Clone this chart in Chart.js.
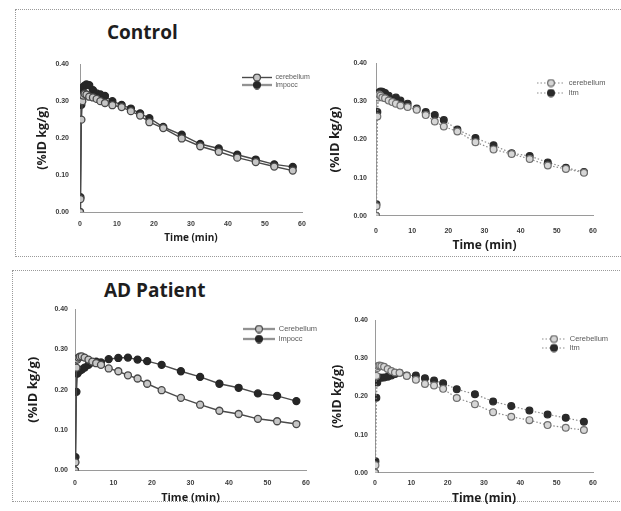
<!DOCTYPE html>
<html><head><meta charset="utf-8">
<script src="https://cdn.jsdelivr.net/npm/chart.js@4.4.1/dist/chart.umd.min.js"></script>
<style>
html,body{margin:0;padding:0;background:#fff;width:621px;height:511px;overflow:hidden;position:relative}
canvas{position:absolute}
.box{position:absolute;border:1px dotted #9a9a9a}
.ttl{position:absolute;font-family:"Open Sans",sans-serif;font-weight:700;font-size:19px;color:#1e1e1e;line-height:19px;white-space:nowrap}
</style></head><body>
<div class="box" style="left:15px;top:9px;width:640px;height:246px"></div>
<div class="box" style="left:12px;top:270px;width:640px;height:230px"></div>
<div class="ttl" style="left:107px;top:23px">Control</div>
<div class="ttl" style="left:104px;top:281px">AD Patient</div>
<canvas id="c1"></canvas><canvas id="c2"></canvas><canvas id="c3"></canvas><canvas id="c4"></canvas>
<script>
// ---- data ----
const times = [0, 0.125, 0.375, 0.625, 0.875, 1.25, 1.75, 2.5, 3.5, 4.5, 5.5, 6.75, 8.75, 11.25, 13.75, 16.25, 18.75, 22.5, 27.5, 32.5, 37.5, 42.5, 47.5, 52.5, 57.5];
const yTickLabels = ['0.00', '0.10', '0.20', '0.30', '0.40'];
const xTickLabels = ['0', '10', '20', '30', '40', '50', '60'];

const controlLeftLabels = ['cerebellum', 'lmpocc'];
const controlLeftCerebellum = [0, 0.035, 0.25, 0.30, 0.315, 0.32, 0.318, 0.312, 0.31, 0.306, 0.300, 0.295, 0.289, 0.284, 0.273, 0.261, 0.243, 0.227, 0.199, 0.178, 0.163, 0.147, 0.135, 0.123, 0.112];
const controlLeftLmpocc = [0, 0.04, 0.29, 0.33, 0.338, 0.342, 0.345, 0.343, 0.33, 0.321, 0.318, 0.314, 0.300, 0.290, 0.280, 0.267, 0.254, 0.230, 0.209, 0.184, 0.172, 0.155, 0.142, 0.129, 0.122];

const controlRightLabels = ['cerebellum', 'ltm'];
const controlRightCerebellum = [0, 0.025, 0.26, 0.31, 0.318, 0.315, 0.31, 0.308, 0.302, 0.298, 0.294, 0.289, 0.285, 0.278, 0.264, 0.247, 0.234, 0.221, 0.193, 0.174, 0.162, 0.149, 0.132, 0.123, 0.113];
const controlRightLtm = [0, 0.03, 0.272, 0.315, 0.323, 0.326, 0.325, 0.322, 0.315, 0.302, 0.31, 0.302, 0.294, 0.281, 0.272, 0.264, 0.251, 0.226, 0.204, 0.185, 0.164, 0.157, 0.14, 0.126, 0.115];

const adLeftLabels = ['Cerebellum', 'lmpocc'];
const adLeftCerebellum = [0, 0.02, 0.255, 0.275, 0.28, 0.282, 0.283, 0.28, 0.275, 0.27, 0.266, 0.262, 0.253, 0.246, 0.236, 0.228, 0.215, 0.199, 0.18, 0.163, 0.148, 0.14, 0.128, 0.122, 0.115];
const adLeftLmpocc = [0, 0.033, 0.195, 0.24, 0.245, 0.248, 0.25, 0.255, 0.262, 0.268, 0.27, 0.268, 0.276, 0.279, 0.28, 0.275, 0.271, 0.262, 0.246, 0.232, 0.215, 0.205, 0.191, 0.185, 0.172];

const adRightLabels = ['Cerebellum', 'ltm'];
const adRightCerebellum = [0, 0.02, 0.254, 0.275, 0.28, 0.281, 0.28, 0.278, 0.272, 0.267, 0.263, 0.262, 0.254, 0.244, 0.233, 0.229, 0.22, 0.196, 0.18, 0.159, 0.147, 0.138, 0.125, 0.118, 0.112];
const adRightLtm = [0, 0.03, 0.197, 0.237, 0.25, 0.25, 0.249, 0.25, 0.252, 0.255, 0.259, 0.262, 0.255, 0.255, 0.248, 0.242, 0.235, 0.219, 0.206, 0.187, 0.175, 0.163, 0.153, 0.144, 0.134];

// ---- layout (plot boxes in page pixels) ----
const panels = [
  {id:'c1', labels:controlLeftLabels, series:[controlLeftCerebellum, controlLeftLmpocc], dotted:false,
   ca:{l:80, r:302, t:57, b:212}, yTitleX:42, yTS:12.5, xTitleY:238, xTS:10, yPad:11, xPad:8,
   leg:{x:242, w:30, y:77.5, gap:7.5, fs:7}},
  {id:'c2', labels:controlRightLabels, series:[controlRightCerebellum, controlRightLtm], dotted:true,
   ca:{l:376, r:593, t:58, b:215}, yTitleX:335, yTS:13, xTitleY:245, xTS:12, yPad:9, xPad:11,
   leg:{x:537, w:28, y:83, gap:10, fs:7.5}},
  {id:'c3', labels:adLeftLabels, series:[adLeftCerebellum, adLeftLmpocc], dotted:false,
   ca:{l:75, r:306, t:306, b:470}, yTitleX:33, yTS:13, xTitleY:497, xTS:11, yPad:7, xPad:8,
   leg:{x:243, w:32, y:329, gap:10, fs:7.5}},
  {id:'c4', labels:adRightLabels, series:[adRightCerebellum, adRightLtm], dotted:true,
   ca:{l:375, r:593, t:317, b:472}, yTitleX:337, yTS:12.5, xTitleY:498, xTS:12, yPad:7, xPad:6,
   leg:{x:542, w:24, y:339, gap:9, fs:7.5}}
];

function styleFor(dotted, filled) {
  if (!dotted) {
    return {
      borderColor:'#4a4a4a', borderWidth:1.4, borderDash:[],
      pointRadius:3.5, pointBorderWidth:1.3,
      pointBackgroundColor: filled ? '#262626' : '#c6c6c6',
      pointBorderColor: filled ? '#262626' : '#484848'
    };
  }
  return {
    borderColor:'#8c8c8c', borderWidth:1.2, borderDash:[1.5, 2],
    pointRadius:3.4, pointBorderWidth:1.2,
    pointBackgroundColor: filled ? '#2a2a2a' : '#d6d6d6',
    pointBorderColor: filled ? '#2a2a2a' : '#6e6e6e'
  };
}

function makeIcon(w, st) {
  const c = document.createElement('canvas');
  c.width = w; c.height = 9;
  const g = c.getContext('2d');
  g.strokeStyle = st.borderColor; g.lineWidth = st.borderWidth;
  g.setLineDash(st.borderDash);
  g.beginPath(); g.moveTo(0, 4.5); g.lineTo(w, 4.5); g.stroke();
  g.setLineDash([]);
  g.beginPath(); g.arc(w / 2, 4.5, st.pointRadius, 0, Math.PI * 2);
  g.fillStyle = st.pointBackgroundColor; g.fill();
  g.strokeStyle = st.pointBorderColor; g.lineWidth = st.pointBorderWidth; g.stroke();
  return c;
}

const legendMover = {
  id: 'legendMover',
  afterLayout(chart, args, o) {
    const lg = chart.legend;
    if (!lg || o.x === undefined) return;
    lg.left = o.x; lg.top = o.y; lg.width = 220; lg.height = 80;
    lg.right = o.x + 220; lg.bottom = o.y + 80;
  }
};

const PAD_T = 8, PAD_R = 10;
panels.forEach(p => {
  const yLH = p.yTS * 1.2, xLH = p.xTS * 1.2;
  const left = Math.round(p.yTitleX - yLH / 2);
  const top = p.ca.t - PAD_T;
  const yW = p.ca.l - left;
  const xH = p.xTitleY + xLH / 2 - p.ca.b;
  const W = p.ca.r - left + PAD_R + 20;
  const H = Math.ceil(PAD_T + (p.ca.b - p.ca.t) + xH);
  const cv = document.getElementById(p.id);
  cv.width = W; cv.height = H;
  cv.style.left = left + 'px'; cv.style.top = top + 'px';

  const styles = [styleFor(p.dotted, false), styleFor(p.dotted, true)];
  const icons = styles.map(s => makeIcon(p.leg.w, s));
  const lpad = Math.max(p.leg.gap - p.leg.fs, 0);

  new Chart(cv, {
    type: 'line',
    data: {
      datasets: p.series.map((s, i) => Object.assign({
        label: p.labels[i],
        data: times.map((t, k) => ({x: t, y: s[k]})),
        tension: 0, fill: false
      }, styles[i]))
    },
    options: {
      responsive: false, animation: false, events: [],
      layout: {padding: {top: PAD_T, right: PAD_R + 20, left: 0, bottom: 0}},
      plugins: {
        tooltip: {enabled: false},
        title: {display: false},
        legend: {
          position: 'chartArea', align: 'start',
          labels: {
            usePointStyle: true, pointStyleWidth: p.leg.w, padding: lpad,
            color: '#5a5a5a', font: {family: 'Liberation Sans, Arial, sans-serif', size: p.leg.fs},
            generateLabels(chart) {
              const items = Chart.defaults.plugins.legend.labels.generateLabels(chart);
              items.forEach((it, i) => { it.pointStyle = icons[i]; });
              return items;
            }
          }
        },
        legendMover: {x: p.leg.x - lpad - left, y: p.leg.y - lpad - p.leg.fs / 2 - top}
      },
      scales: {
        x: {
          type: 'linear', min: 0, max: 60,
          grid: {display: false, drawTicks: false},
          border: {display: true, color: '#9a9a9a', width: 1, dash: [2, 1.5]},
          ticks: {stepSize: 10, padding: p.xPad, maxRotation: 0, color: '#3a3a3a',
                  font: {family: 'Liberation Sans, Arial, sans-serif', size: 7, weight: 'bold'},
                  callback: v => xTickLabels[Math.round(v / 10)]},
          title: {display: true, text: 'Time (min)', color: '#1e1e1e', padding: 0,
                  font: {family: 'Open Sans, sans-serif', size: p.xTS, weight: 'bold'}},
          afterFit(s) { s.height = xH; }
        },
        y: {
          type: 'linear', min: 0, max: 0.4,
          grid: {display: false, drawTicks: false},
          border: {display: true, color: '#9a9a9a', width: 1, dash: [2, 1.5]},
          ticks: {stepSize: 0.1, padding: p.yPad, color: '#3a3a3a',
                  font: {family: 'Liberation Sans, Arial, sans-serif', size: 7, weight: 'bold'},
                  callback: v => yTickLabels[Math.round(v * 10)]},
          title: {display: true, text: '(%ID kg/g)', color: '#1e1e1e', padding: 0,
                  font: {family: 'Open Sans, sans-serif', size: p.yTS, weight: 'bold'}},
          afterFit(s) { s.width = yW; }
        }
      }
    },
    plugins: [legendMover]
  });
});
</script>
</body></html>
